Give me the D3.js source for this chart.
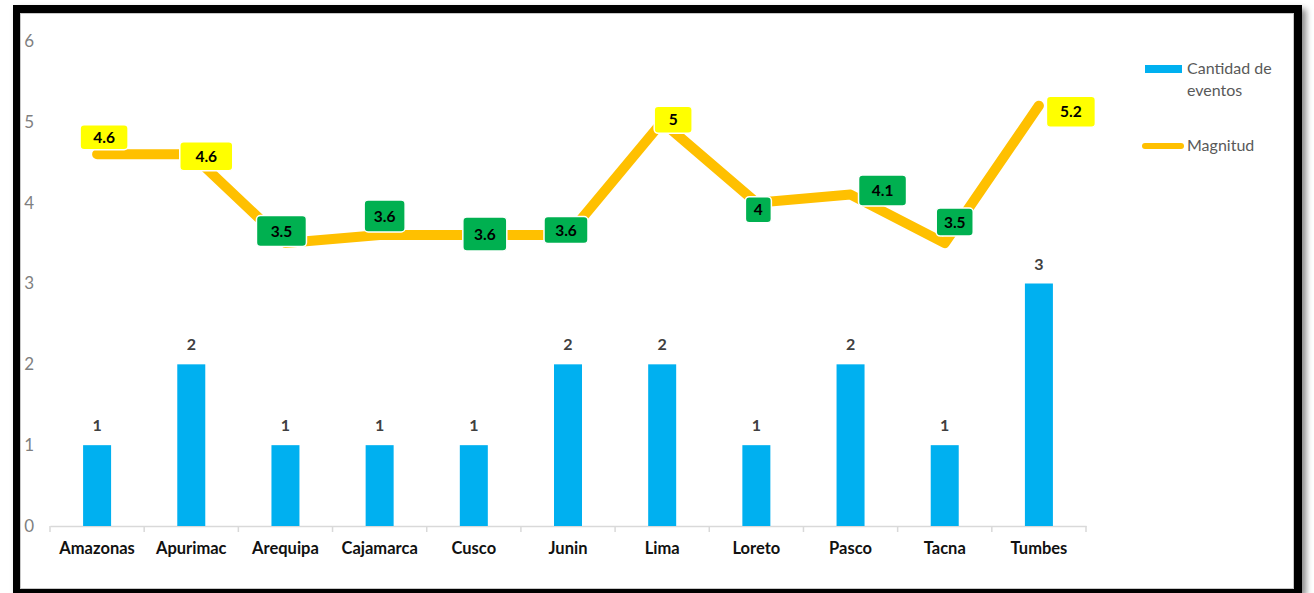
<!DOCTYPE html>
<html>
<head>
<meta charset="utf-8">
<script src="https://cdn.jsdelivr.net/npm/d3@7"></script>
<style>
  html, body { margin: 0; padding: 0; background: #fff; }
  svg { display: block; font-family: Lato, "Open Sans", sans-serif; }
</style>
</head>
<body>
<svg id="chart" width="1314" height="593"></svg>
<script>
// data
const regions = ["Amazonas", "Apurimac", "Arequipa", "Cajamarca", "Cusco", "Junin",
                 "Lima", "Loreto", "Pasco", "Tacna", "Tumbes"];
const eventCounts = [1, 2, 1, 1, 1, 2, 2, 1, 2, 1, 3];
const magnitudes = [4.6, 4.6, 3.5, 3.6, 3.6, 3.6, 5, 4, 4.1, 3.5, 5.2];
const yTicks = [0, 1, 2, 3, 4, 5, 6];
const legendLabels = [["Cantidad de", "eventos"], ["Magnitud"]];

// where each magnitude label box sits relative to its point: [dx, dy, w, h]
const labelBoxes = [
  [7, -17, 48, 25], [15, 2, 53, 29], [-4, -12, 50, 31], [5, -19, 41, 32],
  [11, -1, 44, 34], [-2, -5, 44, 27], [11, -2, 38, 27], [2, 7, 26, 26],
  [32, -4, 48, 31], [10, -21, 37, 28], [32, 6, 49, 31]
];

const svg = d3.select("#chart");

// frame: shadow, black border, thin grey inner edge
const defs = svg.append("defs");
const blur = defs.append("filter").attr("id", "shadow")
    .attr("x", "-5%").attr("y", "-5%").attr("width", "110%").attr("height", "110%");
blur.append("feGaussianBlur").attr("stdDeviation", 3);

svg.append("rect")
    .attr("x", 17).attr("y", 9).attr("width", 1289).attr("height", 588)
    .attr("fill", "#888").attr("filter", "url(#shadow)");
svg.append("rect")
    .attr("x", 13).attr("y", 5).attr("width", 1289).attr("height", 590)
    .attr("fill", "#000");
svg.append("rect")
    .attr("x", 20.5).attr("y", 13.5).attr("width", 1273).attr("height", 575)
    .attr("fill", "#fff").attr("stroke", "#c8c8c8").attr("stroke-width", 1);

const x = d3.scaleBand()
    .domain(regions)
    .range([50, 1086]);

const y = d3.scaleLinear()
    .domain([0, 6])
    .range([526, 41]);

const cx = function(d) { return x(d) + x.bandwidth() / 2; };

// y tick labels (no gridlines)
svg.append("g")
    .selectAll("text")
    .data(yTicks)
    .enter()
    .append("text")
    .attr("x", 34)
    .attr("y", function(d) { return y(d); })
    .attr("dy", "0.35em")
    .attr("text-anchor", "end")
    .attr("fill", "#7f7f7f")
    .style("font-size", "17px")
    .text(function(d) { return d; });

// x axis
const xAxis = svg.append("g")
    .attr("transform", "translate(0," + y(0) + ")")
    .call(d3.axisBottom(x).tickSize(0).tickPadding(16));
xAxis.select(".domain").attr("stroke", "#d9d9d9").attr("stroke-width", 1.5);
xAxis.selectAll("text")
    .attr("fill", "#111")
    .style("font-size", "16.5px")
    .style("font-weight", "bold")
    .style("font-family", "Lato, sans-serif");

// tick marks between categories
const bounds = regions.map(function(d) { return x(d); }).concat([x.range()[1]]);
xAxis.selectAll("line.sep")
    .data(bounds)
    .enter()
    .append("line")
    .attr("class", "sep")
    .attr("x1", function(d) { return d; })
    .attr("x2", function(d) { return d; })
    .attr("y1", 0)
    .attr("y2", 6)
    .attr("stroke", "#d9d9d9")
    .attr("stroke-width", 1.5);

// bars
const barW = 28;
svg.append("g")
    .selectAll("rect")
    .data(regions)
    .enter()
    .append("rect")
    .attr("x", function(d) { return cx(d) - barW / 2; })
    .attr("y", function(d, i) { return y(eventCounts[i]); })
    .attr("width", barW)
    .attr("height", function(d, i) { return y(0) - y(eventCounts[i]); })
    .attr("fill", "#00b0f0");

svg.append("g")
    .selectAll("text")
    .data(regions)
    .enter()
    .append("text")
    .attr("x", function(d) { return cx(d); })
    .attr("y", function(d, i) { return y(eventCounts[i]) - 14; })
    .attr("text-anchor", "middle")
    .attr("fill", "#404040")
    .style("font-size", "16px")
    .style("font-weight", "bold")
    .text(function(d, i) { return eventCounts[i]; });

// magnitude line
const line = d3.line()
    .x(function(d, i) { return cx(regions[i]); })
    .y(function(d) { return y(d); });

svg.append("path")
    .datum(magnitudes)
    .attr("d", line)
    .attr("fill", "none")
    .attr("stroke", "#ffc000")
    .attr("stroke-width", 10)
    .attr("stroke-linejoin", "round")
    .attr("stroke-linecap", "round");

// magnitude labels
const labels = svg.append("g")
    .selectAll("g")
    .data(magnitudes)
    .enter()
    .append("g")
    .attr("transform", function(d, i) {
      const b = labelBoxes[i];
      return "translate(" + (cx(regions[i]) + b[0]) + "," + (y(d) + b[1]) + ")";
    });

labels.append("rect")
    .attr("x", function(d, i) { return -labelBoxes[i][2] / 2; })
    .attr("y", function(d, i) { return -labelBoxes[i][3] / 2; })
    .attr("width", function(d, i) { return labelBoxes[i][2]; })
    .attr("height", function(d, i) { return labelBoxes[i][3]; })
    .attr("rx", 4)
    .attr("fill", function(d) { return d >= 4.5 ? "#ffff00" : "#00b050"; })
    .attr("stroke", "#fff")
    .attr("stroke-width", 1.5);

labels.append("text")
    .attr("text-anchor", "middle")
    .attr("dy", "0.36em")
    .attr("fill", "#000")
    .style("font-size", "15.5px")
    .style("font-weight", "bold")
    .text(function(d) { return d; });

// legend
const legend = svg.append("g").attr("transform", "translate(1142,0)");
legend.append("rect")
    .attr("x", 3).attr("y", 65).attr("width", 37).attr("height", 8)
    .attr("fill", "#00b0f0");
legend.append("line")
    .attr("x1", 3).attr("x2", 39).attr("y1", 146).attr("y2", 146)
    .attr("stroke", "#ffc000").attr("stroke-width", 6)
    .attr("stroke-linecap", "round");

const legendY = [74, 151];
legendLabels.forEach(function(lines, k) {
  const t = legend.append("text")
      .attr("x", 45)
      .attr("y", legendY[k])
      .attr("fill", "#595959")
      .style("font-size", "16px");
  lines.forEach(function(s, j) {
    t.append("tspan").attr("x", 45).attr("dy", j === 0 ? 0 : 22).text(s);
  });
});
</script>
</body>
</html>
